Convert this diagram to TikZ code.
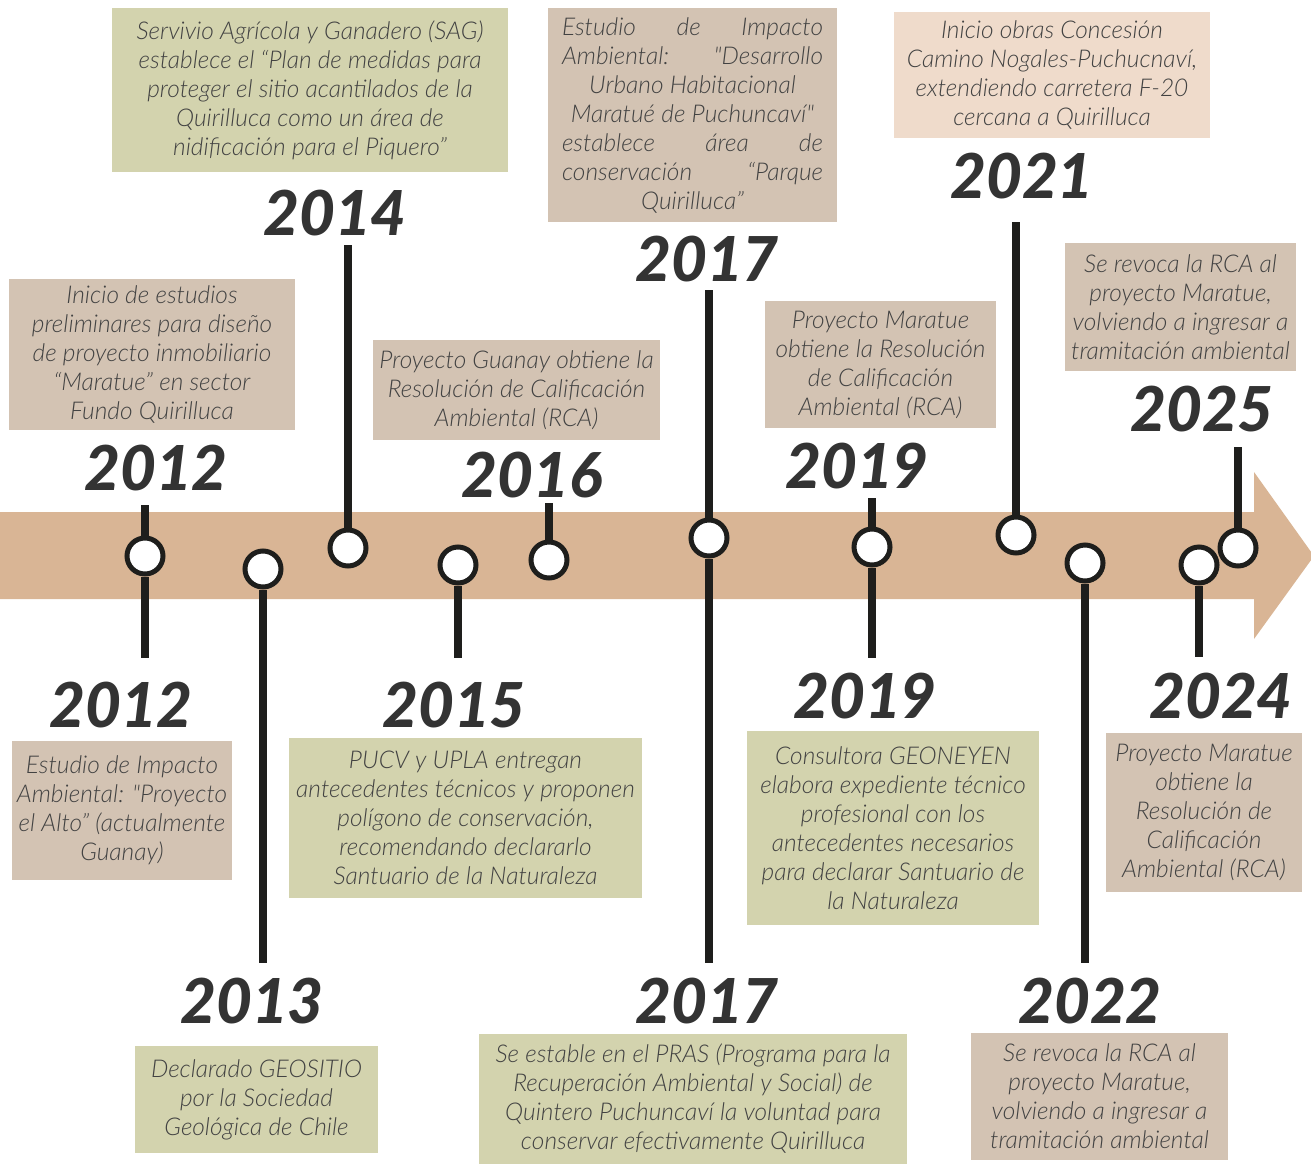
\documentclass[tikz,border=0pt]{standalone}
\usepackage{fontspec}
\IfFontExistsTF{Lato Light Italic}{\newfontfamily\boxfont{Lato Light Italic}}{\newfontfamily\boxfontbase{Lato}\newcommand\boxfont{\boxfontbase\itshape}}
\IfFontExistsTF{Lato Black Italic}{\newfontfamily\yearfont{Lato Black Italic}}{\newfontfamily\yearfontbase{Lato}\newcommand\yearfont{\yearfontbase\bfseries\itshape}}
\definecolor{bandc}{HTML}{D9B595}
\definecolor{tanc}{HTML}{D3C3B3}
\definecolor{greenc}{HTML}{D3D3AE}
\definecolor{pinkc}{HTML}{EFDBCB}
\definecolor{darkc}{HTML}{1E1E1C}
\definecolor{yearc}{HTML}{333333}
\definecolor{textc}{HTML}{424242}
\tikzset{
  box/.style={inner sep=0pt, align=center, text=textc, font={\boxfont\fontsize{24.5}{29}\selectfont}},
  tanbox/.style={box, fill=tanc},
  greenbox/.style={box, fill=greenc},
  pinkbox/.style={box, fill=pinkc},
  year/.style={anchor=base, text=yearc, inner sep=0pt, font={\yearfont\fontsize{62}{62}\selectfont}},
  marker/.style={circle, draw=darkc, fill=white, line width=5pt, minimum size=36pt, inner sep=0pt},
  stem/.style={draw=darkc, line width=7.5pt}
}
\newcommand\jline[1]{\makebox[261pt][s]{#1}}
\begin{document}
\begin{tikzpicture}[x=1pt,y=-1pt]
\useasboundingbox (0,0) rectangle (1311,1165);
\begin{scope}
\clip (0,0) rectangle (1311,1165);
\fill[bandc] (0,512) -- (1254,512) -- (1254,472) -- (1314,556) -- (1254,639) -- (1254,599) -- (0,599) -- cycle;
\end{scope}

% stem end coordinates
\coordinate (t2012) at (145,505);
\coordinate (b2012) at (145,658);
\coordinate (b2013) at (263,963);
\coordinate (t2014) at (348,245);
\coordinate (b2015) at (458,658);
\coordinate (t2016) at (549,503);
\coordinate (t2017) at (709,290);
\coordinate (b2017) at (709,963);
\coordinate (t2019) at (872,498);
\coordinate (b2019) at (872,658);
\coordinate (t2021) at (1016,222);
\coordinate (b2022) at (1085,963);
\coordinate (b2024) at (1199,657);
\coordinate (t2025) at (1238,447);

% markers
\node[marker] (m2012) at (145,556) {};
\node[marker] (m2013) at (263,569) {};
\node[marker] (m2014) at (348,548) {};
\node[marker] (m2015) at (458,565) {};
\node[marker] (m2016) at (549,560) {};
\node[marker] (m2017) at (709,538) {};
\node[marker] (m2019) at (872,547) {};
\node[marker] (m2021) at (1016,535) {};
\node[marker] (m2022) at (1085,563) {};
\node[marker] (m2024) at (1199,565) {};
\node[marker] (m2025) at (1238,548) {};

% stems
\draw[stem] (m2012) -- (t2012);
\draw[stem] (m2012) -- (b2012);
\draw[stem] (m2013) -- (b2013);
\draw[stem] (m2014) -- (t2014);
\draw[stem] (m2015) -- (b2015);
\draw[stem] (m2016) -- (t2016);
\draw[stem] (m2017) -- (t2017);
\draw[stem] (m2017) -- (b2017);
\draw[stem] (m2019) -- (t2019);
\draw[stem] (m2019) -- (b2019);
\draw[stem] (m2021) -- (t2021);
\draw[stem] (m2022) -- (b2022);
\draw[stem] (m2024) -- (b2024);
\draw[stem] (m2025) -- (t2025);

% years
\node[year] (y2012t) at (156,490) {2012};
\node[year] (y2014) at (335,235) {2014};
\node[year] (y2016) at (532,497) {2016};
\node[year] (y2017t) at (707,281) {2017};
\node[year] (y2019t) at (857,488) {2019};
\node[year] (y2021) at (1022,198) {2021};
\node[year] (y2025) at (1202,431) {2025};
\node[year] (y2012b) at (121,727) {2012};
\node[year] (y2015) at (454,727) {2015};
\node[year] (y2019b) at (865,718) {2019};
\node[year] (y2024) at (1221,718) {2024};
\node[year] (y2013) at (252,1023) {2013};
\node[year] (y2017b) at (707,1023) {2017};
\node[year] (y2022) at (1090,1023) {2022};

% boxes
\node[tanbox, minimum width=286pt, minimum height=151pt] (e2012t) at (152,354.5)
 {Inicio de estudios\\preliminares para diseño\\de proyecto inmobiliario\\“Maratue” en sector\\Fundo Quirilluca};
\node[greenbox, minimum width=396pt, minimum height=164pt] (e2014) at (310,90)
 {Servivio Agrícola y Ganadero (SAG)\\establece el “Plan de medidas para\\proteger el sitio acantilados de la\\Quirilluca como un área de\\nidificación para el Piquero”};
\node[tanbox, minimum width=287pt, minimum height=100pt] (e2016) at (516.5,390)
 {Proyecto Guanay obtiene la\\Resolución de Calificación\\Ambiental (RCA)};
\node[tanbox, minimum width=289pt, minimum height=214pt] (e2017t) at (692.5,115)
 {\jline{Estudio de Impacto}\\\jline{Ambiental: "Desarrollo}\\Urbano Habitacional\\Maratué de Puchuncaví"\\\jline{establece área de}\\\jline{conservación “Parque}\\Quirilluca”};
\node[tanbox, minimum width=231pt, minimum height=127pt] (e2019t) at (880.5,364.5)
 {Proyecto Maratue\\obtiene la Resolución\\de Calificación\\Ambiental (RCA)};
\node[pinkbox, minimum width=316pt, minimum height=126pt] (e2021) at (1052,75)
 {Inicio obras Concesión\\Camino Nogales-Puchucnaví,\\extendiendo carretera F-20\\cercana a Quirilluca};
\node[tanbox, minimum width=231pt, minimum height=128pt] (e2025) at (1180.5,307)
 {Se revoca la RCA al\\proyecto Maratue,\\volviendo a ingresar a\\tramitación ambiental};
\node[tanbox, minimum width=220pt, minimum height=139pt] (e2012b) at (122,810.5)
 {Estudio de Impacto\\Ambiental: "Proyecto\\el Alto” (actualmente\\Guanay)};
\node[greenbox, minimum width=353pt, minimum height=160pt] (e2015) at (465.5,818)
 {PUCV y UPLA entregan\\antecedentes técnicos y proponen\\polígono de conservación,\\recomendando declararlo\\Santuario de la Naturaleza};
\node[greenbox, minimum width=292pt, minimum height=194pt] (e2019b) at (893,828)
 {Consultora GEONEYEN\\elabora expediente técnico\\profesional con los\\antecedentes necesarios\\para declarar Santuario de\\la Naturaleza};
\node[tanbox, minimum width=196pt, minimum height=159pt] (e2024) at (1204,812.5)
 {Proyecto Maratue\\obtiene la\\Resolución de\\Calificación\\Ambiental (RCA)};
\node[greenbox, minimum width=243pt, minimum height=107pt] (e2013) at (256.5,1099.5)
 {Declarado GEOSITIO\\por la Sociedad\\Geológica de Chile};
\node[greenbox, minimum width=428pt, minimum height=130pt] (e2017b) at (693,1099)
 {Se estable en el PRAS (Programa para la\\Recuperación Ambiental y Social) de\\Quintero Puchuncaví la voluntad para\\conservar efectivamente Quirilluca};
\node[tanbox, minimum width=257pt, minimum height=127pt] (e2022) at (1099.5,1096.5)
 {Se revoca la RCA al\\proyecto Maratue,\\volviendo a ingresar a\\tramitación ambiental};
\end{tikzpicture}
\end{document}
